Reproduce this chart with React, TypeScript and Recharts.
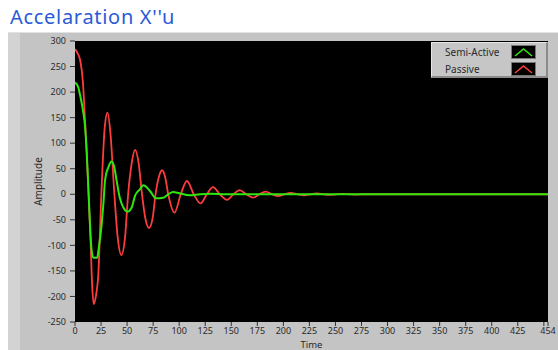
import React from 'react'
import { LineChart, Line, XAxis, YAxis, CartesianGrid } from 'recharts'

// values
const passiveTime = [0, 2.5, 5, 7.5, 9.5, 11.3, 13, 15, 16.5, 18, 20, 22.4, 25.3, 28.5, 31.2, 34, 37.8, 41, 44.5, 48, 51, 54.5, 57.6, 61, 64.3, 67.5, 71, 74.5, 77.3, 80.5, 83.5, 86.5, 89.5, 95.5, 101.5, 107.5, 114, 120.5, 126.5, 132.5, 139, 146, 152, 158, 164.5, 171, 177, 183, 189, 195, 201, 207, 213.5, 220, 226, 232, 238.5, 245, 251, 257, 263, 270, 276, 454]
const passiveAmp = [284, 276, 262, 222, 150, 80, 0, -95, -180, -215, -200, -156, 0, 130, 160, 120, 0, -85, -119, -85, 0, 62, 87, 62, 0, -47, -66, -47, 0, 34, 47, 34, 0, -36, 0, 26, 0, -18, 0, 14, 0, -11, 0, 8, 0, -6.5, 0, 5, 0, -3.5, 0, 2.5, 0, -2, 0, 1.5, 0, -1.2, 0, 0.8, 0, -0.8, 0, 0]

const semiTime = [0, 3.2, 5, 8, 9.6, 11.2, 13, 14.4, 16, 17.6, 21.4, 22.4, 25.6, 27.2, 28.8, 29.8, 31.9, 35, 37.5, 40, 43, 46.4, 50.5, 54.4, 57.6, 62.4, 65.5, 72, 77.7, 84.8, 89.6, 94, 100, 110, 120, 130, 145, 454]
const semiAmp = [219, 209, 193, 160, 134, 83, 5, -59, -111, -124, -124, -111, -59, -20, 26, 39, 52, 64, 55, 26, -7, -26, -34, -26, -3, 10, 17.6, 6.5, -8, -6.6, 0, 4.5, 2, -2, 0, 1, 0, 0]

const xTicks = [0, 25, 50, 75, 100, 125, 150, 175, 200, 225, 250, 275, 300, 325, 350, 375, 400, 425, 450, 454]
const yTicks = [-250, -200, -150, -100, -50, 0, 50, 100, 150, 200, 250, 300]

const passive = passiveTime.map((t, i) => ({ t, amp: passiveAmp[i] }))
const semi = semiTime.map((t, i) => ({ t, amp: semiAmp[i] }))

const series = [
  { name: 'Semi-Active', color: '#2ee60e' },
  { name: 'Passive', color: '#ff3c3c' },
]

const FONT = '"Noto Sans", sans-serif'
const tickStyle = { fontSize: 9, fill: '#2a2a2a', fontFamily: FONT }

export default function App() {
  // fixed full-window box so nothing scrolls; coordinates are page pixels
  return (
    <div style={{ position: 'fixed', left: 0, top: 0, width: 558, height: 350, overflow: 'hidden', background: '#fff', fontFamily: FONT }}>
      <div style={{ position: 'absolute', left: 10, top: 5, fontSize: 20, lineHeight: '24px', letterSpacing: 0.7, color: '#2a5bd7', whiteSpace: 'nowrap' }}>
        Accelaration X''u
      </div>

      {/* gray panel */}
      <div style={{ position: 'absolute', left: 8, top: 32, width: 550, height: 318, background: '#c4c4c4', borderTop: '1px solid #e2e2e2', boxSizing: 'border-box' }}>
        <div style={{ position: 'absolute', left: 0, top: 0, width: 12, height: '100%', background: '#d3d3d3' }} />
      </div>

      <LineChart
        width={550}
        height={342}
        margin={{ top: 33, right: 10, bottom: 0, left: 17 }}
        style={{ position: 'absolute', left: 8, top: 8 }}
      >
        <CartesianGrid horizontal={false} vertical={false} fill="#000" fillOpacity={1} />
        <XAxis
          dataKey="t"
          type="number"
          domain={[0, 454]}
          ticks={xTicks}
          interval={0}
          allowDataOverflow
          height={28}
          axisLine={false}
          tickSize={4}
          tickMargin={2}
          tickLine={{ stroke: '#333' }}
          tick={tickStyle}
          tickFormatter={(v: number) => (v === 450 ? '' : String(v))}
          label={{ value: 'Time', position: 'insideBottom', offset: 2, fontSize: 9.5, fill: '#2a2a2a', fontFamily: FONT }}
        />
        <YAxis
          type="number"
          domain={[-250, 300]}
          ticks={yTicks}
          interval={0}
          allowDataOverflow
          width={50}
          axisLine={false}
          tickSize={5}
          tickMargin={4}
          tickLine={{ stroke: '#333' }}
          tick={tickStyle}
          label={{ value: 'Amplitude', angle: -90, position: 'insideLeft', offset: 13, fontSize: 10, fill: '#2a2a2a', fontFamily: FONT, style: { textAnchor: 'middle' } }}
        />
        <Line data={passive} dataKey="amp" name="Passive" type="monotone" stroke={series[1].color} strokeWidth={1.8} dot={false} isAnimationActive={false} />
        <Line data={semi} dataKey="amp" name="Semi-Active" type="monotone" stroke={series[0].color} strokeWidth={2} dot={false} isAnimationActive={false} />
      </LineChart>

      {/* legend */}
      <div style={{ position: 'absolute', left: 431, top: 42, width: 114, height: 33, background: '#c6c6c6', borderTop: '1px solid #e6e6e6', borderLeft: '1px solid #e6e6e6', borderRight: '2px solid #8a8a8a', borderBottom: '2px solid #8a8a8a' }}>
        {series.map((s, i) => (
          <div key={s.name} style={{ position: 'absolute', left: 13, top: 2 + i * 17, height: 14, width: 100, fontSize: 10, lineHeight: '14px', color: '#2a2a2a' }}>
            {s.name}
            <svg width={25} height={14} style={{ position: 'absolute', left: 66, top: 0 }}>
              <rect x={0.5} y={0.5} width={24} height={13} fill="#000" stroke="#777" />
              <polyline points="4,11 12.5,4 21,11" fill="none" stroke={s.color} strokeWidth={1.6} />
            </svg>
          </div>
        ))}
      </div>
    </div>
  )
}
